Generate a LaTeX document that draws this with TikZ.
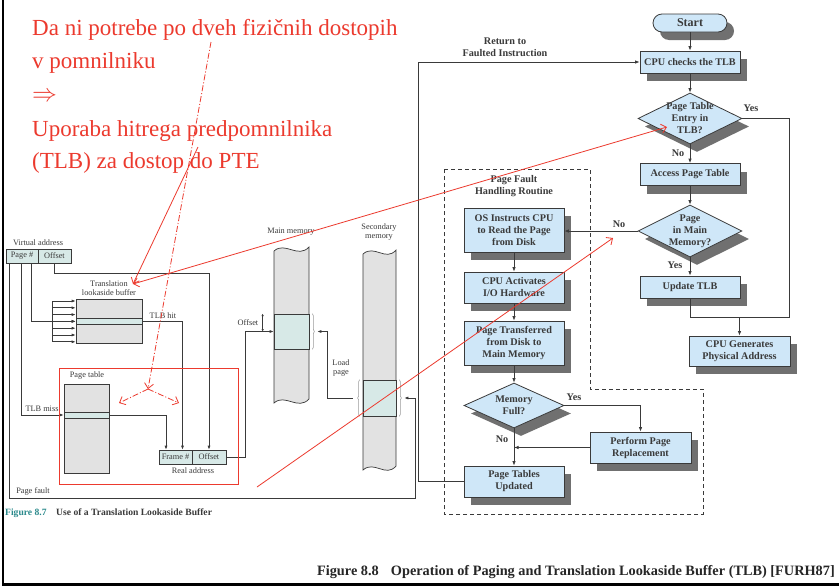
\documentclass[tikz,border=0pt]{standalone}
\usepackage{fontspec}
\setmainfont{Liberation Serif}
\usetikzlibrary{arrows.meta,shapes.geometric,shadows,decorations.pathreplacing,calc}
\definecolor{ink}{HTML}{3A3A3A}
\definecolor{boxblue}{HTML}{CFE7F8}
\definecolor{shade}{HTML}{707070}
\definecolor{memgray}{HTML}{E2E2E2}
\definecolor{cell}{HTML}{D7E9E7}
\definecolor{note}{HTML}{EC3A2E}
\definecolor{figteal}{HTML}{2B8A8C}
\definecolor{brk}{HTML}{9A9A9A}
\begin{document}
\begin{tikzpicture}[x=1pt,y=-1pt,
  flowfont/.style={font=\bfseries\fontsize{10.2}{12}\selectfont, text=ink},
  fc/.style={flowfont, draw=ink, fill=boxblue, line width=0.8pt, align=center, inner sep=0pt,
    drop shadow={shadow xshift=7pt, shadow yshift=-8pt, fill=shade, opacity=1}},
  fcbox/.style 2 args={fc, rectangle, minimum width=#1, minimum height=#2},
  fcdia/.style 2 args={fc, diamond, inner sep=-10pt, minimum width=#1, minimum height=#2},
  flow/.style={draw=ink, line width=0.8pt, -{Latex[length=4.5pt,width=3.5pt]}},
  fline/.style={draw=ink, line width=0.8pt},
  flabel/.style={flowfont, inner sep=0pt, align=center},
  ltext/.style={font=\fontsize{8.3}{9.5}\selectfont, text=ink, inner sep=0pt, align=center},
  cellbox/.style={ltext, draw=ink, fill=cell, line width=0.7pt, inner sep=0pt},
  store/.style={draw=ink, fill=memgray, line width=0.7pt, inner sep=0pt},
  wire/.style={draw=ink, line width=0.7pt},
  warrow/.style={wire, -{Latex[length=4pt,width=3pt]}},
  bracket/.style={draw=brk, line width=0.6pt, decorate, decoration={brace, amplitude=2pt}},
  notetext/.style={font=\fontsize{23}{28}\selectfont, text=note, inner sep=0pt, anchor=base west},
  notearrow/.style={draw=note, line width=0.8pt, -{Straight Barb[length=5pt,width=9pt]}},
  notedash/.style={notearrow, dash pattern=on 6pt off 2pt on 1pt off 2pt},
]
\useasboundingbox (0,0) rectangle (839,587);
\fill[white] (0,0) rectangle (839,587);
\draw[line width=2.6pt, black] (3,0) -- (3,584.5) -- (839,584.5);

% ---------------- flowchart: paging with a TLB ----------------
\draw[fline, dash pattern=on 4pt off 3pt] (444,169) -- (590,169) -- (590,389) -- (703,389) -- (703,514) -- (444,514) -- cycle;

\node[fc, rectangle, rounded corners=9pt, minimum width=74, minimum height=18,
      font=\bfseries\fontsize{12}{14}\selectfont] (start) at (690,23) {Start};
\node[fcbox={100}{22}] (check) at (690,62) {CPU checks the TLB};
\node[fcdia={104}{51}] (intlb) at (690,118.5) {Page Table\\Entry in\\TLB?};
\node[fcbox={100}{22}] (access) at (690,174.5) {Access Page Table};
\node[fcdia={104}{52}] (inmem) at (690,231) {Page\\in Main\\Memory?};
\node[fcbox={100}{22}] (update) at (690,287) {Update TLB};
\node[fcbox={101}{30}] (gen) at (739.5,351) {CPU Generates\\Physical Address};
\node[fcbox={100}{44}] (osread) at (514,230) {OS Instructs CPU\\to Read the Page\\from Disk};
\node[fcbox={100}{31}] (iohw) at (514,287.5) {CPU Activates\\I/O Hardware};
\node[fcbox={100}{44}] (transfer) at (514,343) {Page Transferred\\from Disk to\\Main Memory};
\node[fcdia={100}{45}] (full) at (514,405.5) {Memory\\Full?};
\node[fcbox={101}{31}] (replace) at (640.5,447.5) {Perform Page\\Replacement};
\node[fcbox={100}{31}] (ptupd) at (514,481.5) {Page Tables\\Updated};

\draw[flow] (start) -- (check);
\draw[flow] (check) -- (intlb);
\draw[flow] (intlb) -- (access);
\draw[flow] (access) -- (inmem);
\draw[flow] (inmem) -- (update);
\draw[flow] (inmem.west) -- (inmem.west -| osread.east);
\coordinate (merge) at (739.5,317);
\draw[fline] (intlb.east) -- ++(47,0) |- (merge);
\draw[fline] (update.south) |- (merge);
\draw[flow] (merge) -- (gen.north);
\draw[flow] (osread) -- (iohw);
\draw[flow] (iohw) -- (transfer);
\draw[flow] (transfer) -- (full);
\draw[flow] (full) -- (ptupd);
\draw[flow] (full.east) -| (replace.north);
\draw[flow] (replace.west) -- (replace.west -| full.south);
\draw[flow] (ptupd.west) -- ++(-45,0) |- (check.west);

\node[flabel] (yes1) at (751,108) {Yes};
\node[flabel] (no1) at (678,153) {No};
\node[flabel] (no2) at (619,224) {No};
\node[flabel] (yes2) at (675,265) {Yes};
\node[flabel] (yes3) at (574,397) {Yes};
\node[flabel] (no3) at (502,439) {No};
\node[flabel] (ret) at (505,47.5) {Return to\\Faulted Instruction};
\node[flabel] (pfh) at (514,186.5) {Page Fault\\Handling Routine};

% ---------------- address translation hardware ----------------
\node[ltext] (valabel) at (38,243) {Virtual address};
\node[cellbox, minimum width=32, minimum height=14] (vpage) at (22,256) {Page \#};
\node[cellbox, minimum width=33, minimum height=14] (voff) at (54.5,256) {Offset};

\node[store, minimum width=66, minimum height=44] (tlb) at (109,321) {};
\node[cellbox, minimum width=66, minimum height=6] (tlbrow) at (109,321.3) {};
\node[ltext] (tlblabel) at (109,288) {Translation\\lookaside buffer};
\node[ltext] (hitlabel) at (163,316) {TLB hit};

\node[ltext] (ptlabel) at (87,376) {Page table};
\node[store, minimum width=45, minimum height=89] (ptab) at (86.5,428.5) {};
\node[cellbox, minimum width=45, minimum height=6] (ptrow) at (86.5,415) {};
\node[ltext] (misslabel) at (42,409) {TLB miss};

\node[cellbox, minimum width=33, minimum height=14] (rframe) at (175.5,457) {Frame \#};
\node[cellbox, minimum width=34, minimum height=14] (roff) at (209,457) {Offset};
\node[ltext] (ralabel) at (193,471) {Real address};
\node[ltext] (pflabel) at (33,491) {Page fault};

% main and secondary memory strips
\node[ltext] (mmlabel) at (291,232) {Main memory};
\filldraw[store] (274,251) .. controls (285,241) and (298,259) .. (309,247) -- (309,399)
   .. controls (298,411) and (285,393) .. (274,403) -- cycle;
\node[cellbox, minimum width=35, minimum height=35] (mpage) at (291.5,331.5) {};
\node[ltext] (seclabel) at (379,232) {Secondary\\memory};
\filldraw[store] (363,254) .. controls (374,244) and (386,262) .. (396,250) -- (396,466)
   .. controls (386,478) and (374,460) .. (363,470) -- cycle;
\node[cellbox, minimum width=33, minimum height=36] (spage) at (379.5,398) {};

\draw[bracket] ($(mpage.north east)+(3,0)$) -- ($(mpage.south east)+(3,0)$);
\draw[bracket] ($(spage.south west)+(-3,0)$) -- ($(spage.north west)+(-3,0)$);
\draw[bracket] ($(spage.north east)+(3,0)$) -- ($(spage.south east)+(3,0)$);

% page-number and offset wiring
\coordinate (pfstart) at ($(vpage.south west)+(4,0)$);
\coordinate (missstart) at ($(vpage.south west)+(16,0)$);
\coordinate (hitstart) at ($(vpage.south west)+(26,0)$);
\draw[warrow] (hitstart) |- (tlbrow.west);
\draw[warrow] (missstart) |- (ptrow.west);
\coordinate (sbrR) at ($(spage.east)+(8,0)$);
\coordinate (pfcorner) at (415,498);
\draw[warrow] (pfstart) |- (pfcorner) |- (sbrR);

\foreach \k/\yy in {1/301,2/307.8,3/314.6,4/321.4,5/328.2,6/335,7/341.8} {
  \coordinate (fan\k) at (52,\yy);
  \draw[warrow] (fan\k) -- (fan\k -| tlb.west);
}
\draw[wire] (fan1) -- (fan7);

\draw[warrow] (voff.south) -- ++(0,10) -| (roff.north);
\coordinate (hitin) at ($(rframe.north)+(7,0)$);
\draw[warrow] (tlbrow.east) -| (hitin);
\coordinate (ptin) at ($(rframe.north)+(-9.5,0)$);
\draw[warrow] (ptrow.east) -| (ptin);

\draw[warrow] (roff.east) -- ++(19,0) |- (mpage.west);
\node[ltext] (offlabel) at (248,323) {Offset};
\coordinate (offtop) at ($(mpage.north west)+(-11,0)$);
\coordinate (offbot) at ($(mpage.west)+(-11,0)$);
\draw[wire, {Latex[length=2.5pt,width=2.5pt]}-{Latex[length=2.5pt,width=2.5pt]}] (offtop) -- (offbot);

\coordinate (mbr) at ($(mpage.east)+(8,0)$);
\coordinate (sbl) at ($(spage.west)+(-10,0)$);
\draw[warrow] (sbl) -- ++(-25,0) |- (mbr);
\node[ltext] (loadlabel) at (341,368) {Load\\page};

% captions
\node[font=\bfseries\fontsize{9.6}{11}\selectfont, text=figteal, anchor=base west, inner sep=0pt] (cap7a) at (5,515) {Figure 8.7};
\node[font=\bfseries\fontsize{9.6}{11}\selectfont, text=ink, anchor=base west, inner sep=0pt] (cap7b) at (56,515) {Use of a Translation Lookaside Buffer};
\node[font=\bfseries\fontsize{14.3}{16}\selectfont, text=black!85, anchor=base east, inner sep=0pt] (cap8) at (835,575)
  {Figure 8.8\hspace{0.6em} Operation of Paging and Translation Lookaside Buffer (TLB) [FURH87]};

% ---------------- lecture annotations ----------------
\draw[note, line width=0.8pt] (59,368) rectangle (238,484);
\node[notetext] (t1) at (32,35) {Da ni potrebe po dveh fizičnih dostopih};
\node[notetext] (t2) at (32,68) {v pomnilniku};
\node[notetext] (t3) at (32,101.5) {$\Rightarrow$};
\node[notetext] (t4) at (32,136) {Uporaba hitrega predpomnilnika};
\node[notetext] (t5) at (32,168) {(TLB) za dostop do PTE};

\coordinate (slashtop) at (198,147);
\coordinate (tlbnote) at (133,284);
\coordinate (dashtop) at (211,42);
\coordinate (dashfork) at (148,389);
\coordinate (forkleft) at (119,403);
\coordinate (forkright) at (179,403);
\coordinate (diaspot) at (667,127);
\coordinate (pagefrom) at (257,487);
\coordinate (nospot) at (613,238);
\draw[notearrow] (slashtop) -- (tlbnote);
\draw[notearrow, {Straight Barb[length=5pt,width=9pt]}-{Straight Barb[length=5pt,width=9pt]}] (diaspot) -- (tlbnote);
\draw[notedash] (dashtop) -- (dashfork);
\draw[notedash] (dashfork) -- (forkleft);
\draw[notedash] (dashfork) -- (forkright);
\draw[notearrow] (pagefrom) -- (nospot);
\end{tikzpicture}
\end{document}
